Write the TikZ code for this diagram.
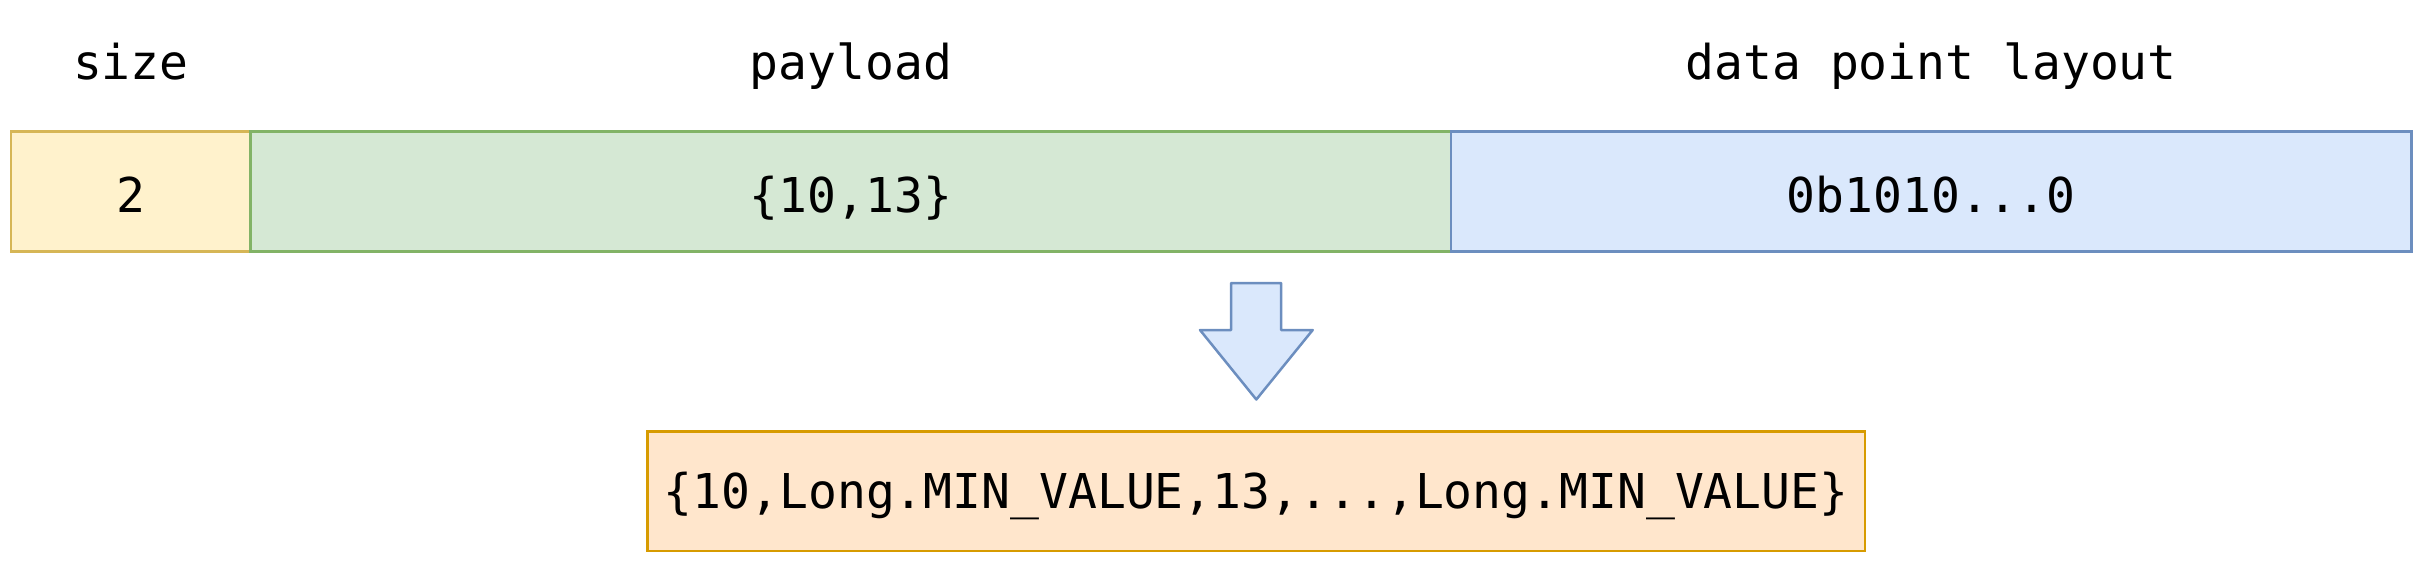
\documentclass[tikz,border=0pt]{standalone}
\usepackage{fontspec}
\newfontfamily\monofam{DejaVu Sans Mono}
\definecolor{yfill}{HTML}{FFF2CC}
\definecolor{ydraw}{HTML}{D6B656}
\definecolor{gfill}{HTML}{D5E8D4}
\definecolor{gdraw}{HTML}{82B366}
\definecolor{bfill}{HTML}{DAE8FC}
\definecolor{bdraw}{HTML}{6C8EBF}
\definecolor{ofill}{HTML}{FFE6CC}
\definecolor{odraw}{HTML}{D79B00}
\begin{document}
\begin{tikzpicture}[x=0.5pt,y=-0.5pt,
  font=\monofam\fontsize{24pt}{28pt}\selectfont,
  box/.style={draw, line width=1.25pt, inner sep=0pt, minimum height=60pt, text height=20.8pt, text depth=0pt},
  lbl/.style={anchor=base, inner sep=0pt},
  blockarrow/.style={draw=bdraw, fill=bfill, line width=1.25pt, line join=round}]
\useasboundingbox (0,0) rectangle (2423,563);
\node[box, fill=yfill, draw=ydraw, minimum width=119.85pt] (size) at (130.85,191.4) {2};
\node[box, fill=gfill, draw=gdraw, minimum width=600.15pt] (payload) at (850.85,191.4) {\{10,13\}};
\node[box, fill=bfill, draw=bdraw, minimum width=480.15pt] (layout) at (1931.15,191.4) {0b1010...0};
\node[lbl] (sizelbl) at (130.85,79) {size};
\node[lbl] (payloadlbl) at (850.85,79) {payload};
\node[lbl] (layoutlbl) at (1931.15,79) {data point layout};
\draw[blockarrow] (1231,283) -- (1281,283) -- (1281,330) -- (1312.7,330) -- (1256.3,399.5) -- (1200,330) -- (1231,330) -- cycle;
\node[box, fill=ofill, draw=odraw, minimum width=608.85pt, minimum height=59.85pt, text height=17.8pt] (result) at (1256.15,491.15) {\{10,Long.MIN\_VALUE,13,...,Long.MIN\_VALUE\}};
\end{tikzpicture}
\end{document}
